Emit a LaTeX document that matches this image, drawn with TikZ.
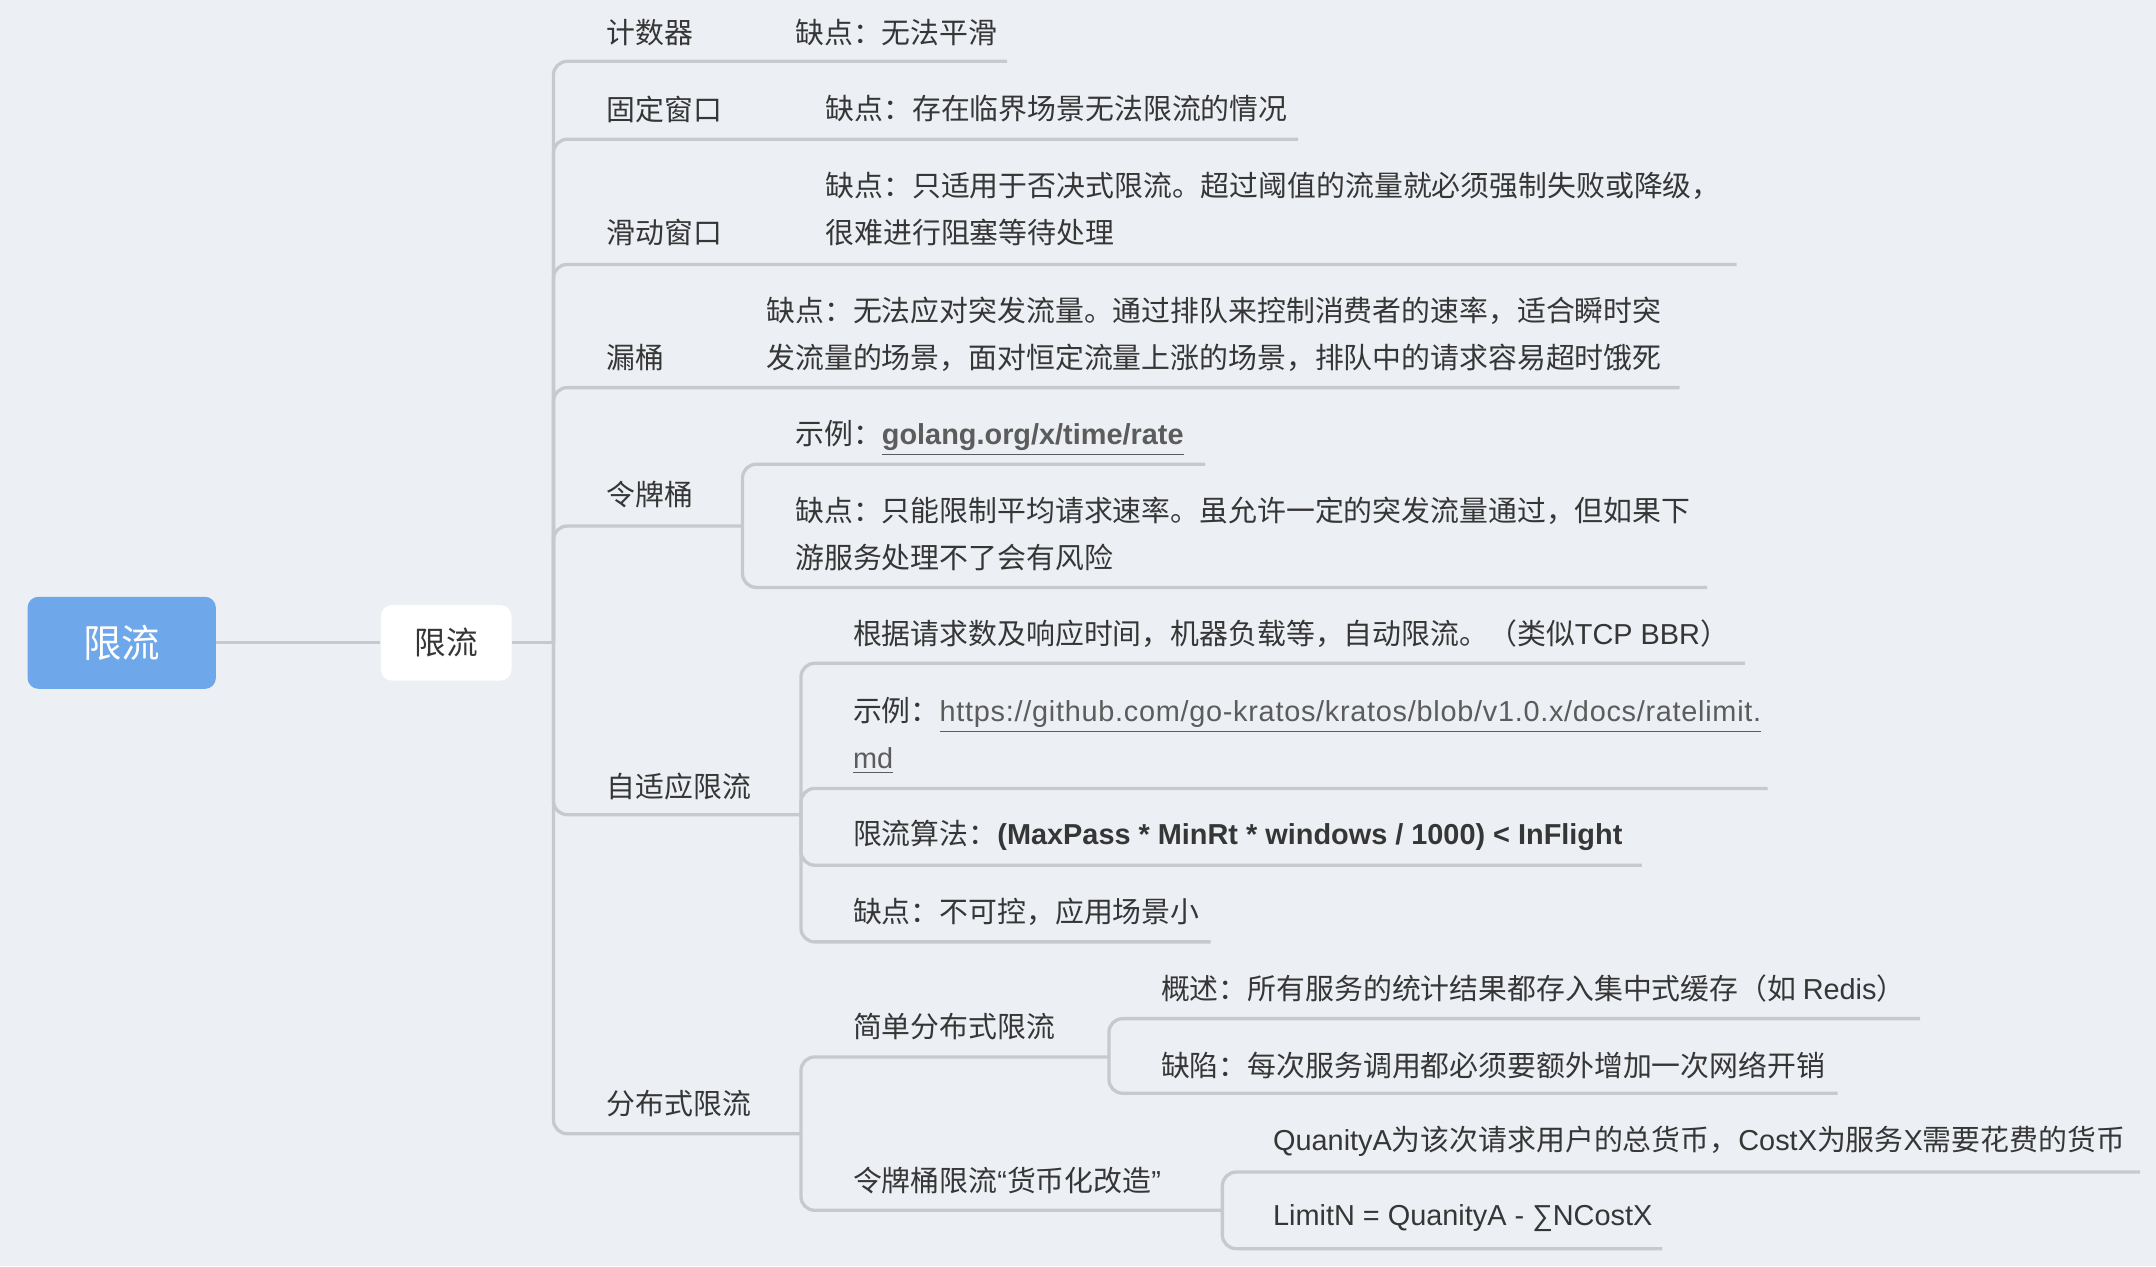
\documentclass[tikz,border=0pt]{standalone}
\usepackage{fontspec}
\setmainfont{Noto Sans CJK SC}
\newfontfamily\lat{Liberation Sans}
\definecolor{bgcol}{HTML}{ECEFF3}
\definecolor{rootcol}{HTML}{6EA8EA}
\definecolor{linecol}{HTML}{C6C9CE}
\definecolor{txtcol}{HTML}{363636}
\definecolor{linkcol}{HTML}{5C5C5C}

\begin{document}
\begin{tikzpicture}[x=0.5pt,y=-0.5pt]
		\newcommand{\trunkx}{402.5} % x of the main vertical line
		\newcommand{\labx}{441}     % x of the second level labels
		\newcommand{\lw}{1.2pt}     % width of the connectors

		% set the styles of the map
		\tikzset{
			branch/.style={
				draw=linecol,
				line width=\lw,
				rounded corners=5pt
				},
			leaf/.style={
				anchor=west,
				inner sep=0pt,
				align=left,
				text=txtcol,
				font=\fontsize{10.5}{17}\selectfont
				},
			rootbox/.style={
				fill=rootcol,
				rounded corners=4pt,
				minimum width=68.5pt,
				minimum height=33.5pt,
				text=white,
				font=\fontsize{14}{17}\selectfont
				},
			subbox/.style={
				fill=white,
				rounded corners=4pt,
				minimum width=47.5pt,
				minimum height=27.5pt,
				text=txtcol,
				font=\fontsize{11.5}{14}\selectfont
				}
		}

		% background
		\fill[bgcol] (0,0) rectangle (1568,921);
		\useasboundingbox (0,0) rectangle (1568,921);

		% centre boxes
		\node[rootbox] (root) at (88.5,467.5) {限流};
		\node[subbox] (sub) at (324.5,467.5) {限流};
		\coordinate (hub) at (\trunkx,467.5);
		\draw[branch] (root) -- (sub);
		\draw[branch] (sub) -- (hub);

		% second level labels
		\foreach \name/\y/\txt in {cnt/23.5/计数器, fix/79.3/固定窗口, sld/168.8/滑动窗口,
			lkb/259.8/漏桶, tkb/359.7/令牌桶, ada/572/自适应限流, dst/802.4/分布式限流}
			\node[leaf] (\name) at (\labx,\y) {\txt};

		% ends of the underlines
		\coordinate (cnt-end) at (732.5,44.6);
		\coordinate (fix-end) at (944,101.3);
		\coordinate (sld-end) at (1263,192.3);
		\coordinate (lkb-end) at (1221.5,281.9);
		\coordinate (tkb-hub) at (540,382.6);
		\coordinate (ada-hub) at (582.5,592.5);
		\coordinate (dst-hub) at (582.5,824.5);

		% main branches
		\foreach \e in {cnt-end,fix-end,sld-end,lkb-end,tkb-hub,ada-hub,dst-hub}
			\draw[branch] (hub) |- (\e);

		% leaves of the first four
		\node[leaf] (cnt1) at (578,23.5) {缺点：无法平滑};
		\node[leaf] (fix1) at (600,79.3) {缺点：存在临界场景无法限流的情况};
		\node[leaf] (sld1) at (600,152) {缺点：只适用于否决式限流。超过阈值的流量就必须强制失败或降级，\\很难进行阻塞等待处理};
		\node[leaf] (lkb1) at (557,243) {缺点：无法应对突发流量。通过排队来控制消费者的速率，适合瞬时突\\发流量的场景，面对恒定流量上涨的场景，排队中的请求容易超时饿死};

		% token bucket
		\coordinate (tkb1-end) at (876.5,337.6);
		\coordinate (tkb2-end) at (1241.5,427.2);
		\draw[branch] (tkb-hub) |- (tkb1-end);
		\draw[branch] (tkb-hub) |- (tkb2-end);
		\node[leaf] (tkb1) at (578,319) {示例：\textcolor{linkcol}{\underline{\lat\bfseries golang.org/x/time/rate}}};
		\node[leaf] (tkb2) at (578,388.3) {缺点：只能限制平均请求速率。虽允许一定的突发流量通过，但如果下\\游服务处理不了会有风险};

		% adaptive
		\coordinate (ada1-end) at (1269,482.4);
		\coordinate (ada2-end) at (1285.5,573.4);
		\coordinate (ada3-end) at (1194,629.2);
		\coordinate (ada4-end) at (880.5,685);
		\foreach \e in {ada1-end,ada2-end,ada3-end,ada4-end}
			\draw[branch] (ada-hub) |- (\e);
		\node[leaf] (ada1) at (620,461) {根据请求数及响应时间，机器负载等，自动限流。（类似{\lat TCP BBR}）};
		\node[leaf] (ada2) at (620,535) {示例：\textcolor{linkcol}{\underline{\lat\addfontfeature{LetterSpace=2.5}https://github.com/go-kratos/kratos/blob/v1.0.x/docs/ratelimit.}}\\\textcolor{linkcol}{\underline{\lat md}}};
		\node[leaf] (ada3) at (620,607.2) {限流算法：{\lat\bfseries (MaxPass * MinRt * windows / 1000) < InFlight}};
		\node[leaf] (ada4) at (620,663) {缺点：不可控，应用场景小};

		% distributed
		\coordinate (dst1-hub) at (806.5,768.7);
		\coordinate (dst2-hub) at (889,880.2);
		\draw[branch] (dst-hub) |- (dst1-hub);
		\draw[branch] (dst-hub) |- (dst2-hub);
		\node[leaf] (dst1) at (620,746.7) {简单分布式限流};
		\node[leaf] (dst2) at (620,858.2) {令牌桶限流{\lat “}货币化改造{\lat ”}};

		\coordinate (dst11-end) at (1396.5,740.8);
		\coordinate (dst12-end) at (1336.5,795.1);
		\draw[branch] (dst1-hub) |- (dst11-end);
		\draw[branch] (dst1-hub) |- (dst12-end);
		\node[leaf] (dst11) at (844,718.8) {概述：所有服务的统计结果都存入集中式缓存（如 {\lat Redis}）};
		\node[leaf] (dst12) at (844,774.6) {缺陷：每次服务调用都必须要额外增加一次网络开销};

		\coordinate (dst21-end) at (1556.5,852.4);
		\coordinate (dst22-end) at (1209,908.1);
		\draw[branch] (dst2-hub) |- (dst21-end);
		\draw[branch] (dst2-hub) |- (dst22-end);
		\node[leaf] (dst21) at (925.5,830.3) {{\lat QuanityA}为该次请求用户的总货币，{\lat CostX}为服务{\lat X}需要花费的货币};
		\node[leaf] (dst22) at (925.5,886.1) {\lat LimitN = QuanityA - ∑NCostX};
\end{tikzpicture}
\end{document}
